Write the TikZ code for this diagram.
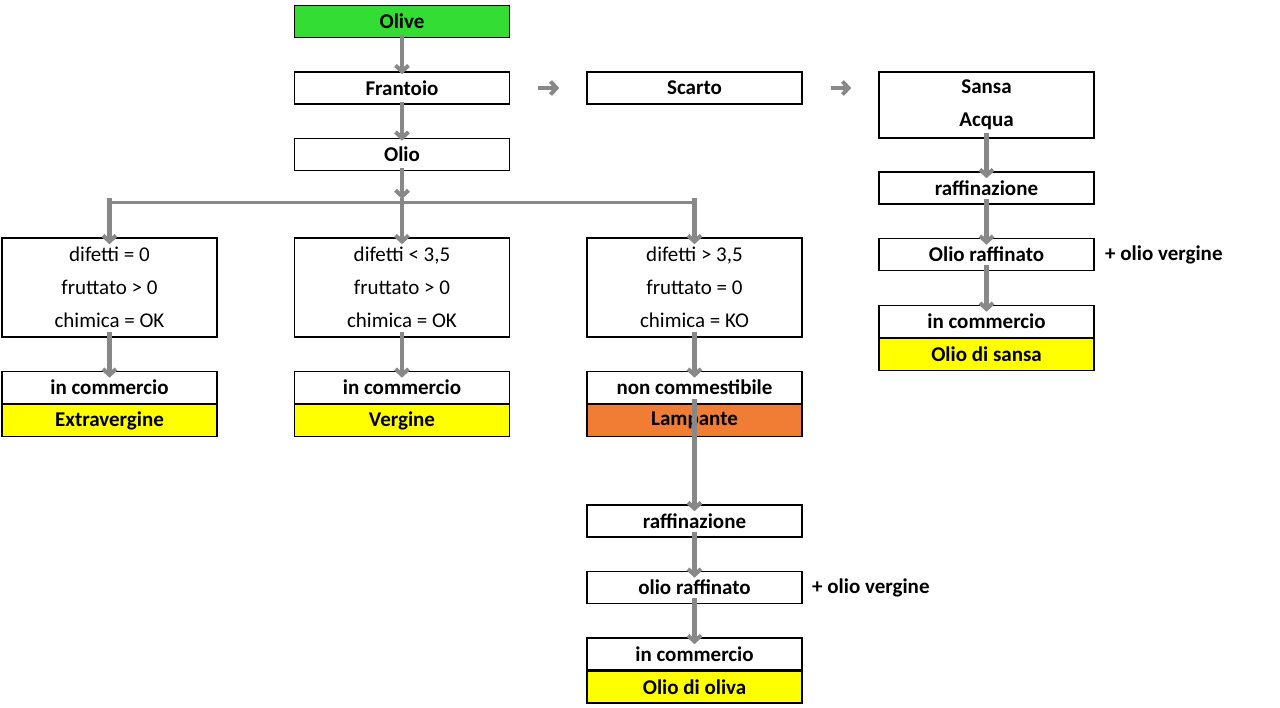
\documentclass[tikz,border=0pt]{standalone}
\usepackage{fontspec}
\setmainfont{Carlito}
\usetikzlibrary{arrows.meta}
\definecolor{grn}{HTML}{33DD33}
\definecolor{yel}{HTML}{FFFF00}
\definecolor{org}{HTML}{F07D33}
\definecolor{arr}{HTML}{888888}
\begin{document}
\begin{tikzpicture}[x=1pt,y=-1pt,
 box/.style={draw=black,line width=1.6pt,minimum width=215pt,minimum height=32pt,inner sep=0pt,font=\fontsize{21}{33}\selectfont\bfseries,align=center},
 rbox/.style={box,font=\fontsize{21}{33}\selectfont,minimum height=99pt},
 ar/.style={draw=arr,line width=4.5pt,-{Straight Barb[length=6pt,width=13pt,line width=4pt]}},
 lbl/.style={font=\fontsize{21}{25}\selectfont\bfseries,anchor=west,inner sep=0pt}]
\useasboundingbox (0,0) rectangle (1280,707);
\node[box,fill=grn] (olive) at (402,21.5) {Olive};
\node[box] (fran) at (402,88) {Frantoio};
\node[box] (olio) at (402,154.5) {Olio};
\node[box] (scarto) at (694.5,88) {Scarto};
\node[box,minimum height=66pt] (sansa) at (986.5,105) {Sansa\\Acqua};
\node[box] (raf1) at (986.5,188) {raffinazione};
\node[box] (or1) at (986.5,254.5) {Olio raffinato};
\node[lbl] (ov1) at (1105,254.5) {+ olio vergine};
\node[box] (ic4) at (986.5,321.5) {in commercio};
\node[box,fill=yel] (os) at (986.5,354.5) {Olio di sansa};
\node[rbox] (d1) at (109.5,287.5) {difetti = 0\\fruttato > 0\\chimica = OK};
\node[rbox] (d2) at (402,287.5) {difetti < 3,5\\fruttato > 0\\chimica = OK};
\node[rbox] (d3) at (694.5,287.5) {difetti > 3,5\\fruttato = 0\\chimica = KO};
\node[box] (ic1) at (109.5,387.5) {in commercio};
\node[box,fill=yel] (ev) at (109.5,420.5) {Extravergine};
\node[box] (ic2) at (402,387.5) {in commercio};
\node[box,fill=yel] (vg) at (402,420.5) {Vergine};
\node[box] (nc) at (694.5,387.5) {non commestibile};
\node[box,fill=org] (lp) at (694.5,420.5) {Lampante};
\node[box] (raf2) at (694.5,521) {raffinazione};
\node[box] (or2) at (694.5,587.5) {olio raffinato};
\node[lbl] (ov2) at (812,587.5) {+ olio vergine};
\node[box] (ic3) at (694.5,654) {in commercio};
\node[box,fill=yel] (oo) at (694.5,687) {Olio di oliva};
\coordinate (h1) at (109.5,202); \coordinate (h2) at (402,202); \coordinate (h3) at (694.5,202);
\draw[arr,line width=3pt] (107,202) -- (696,202);
\draw[ar] ([yshift=3pt]olive.south) -- ([yshift=-3pt]fran.north);
\draw[ar] ([yshift=3pt]fran.south) -- ([yshift=-3pt]olio.north);
\draw[ar] ([yshift=3pt]olio.south) -- ([yshift=3pt]h2);
\draw[ar] ([yshift=4pt]h1) -- ([yshift=-7pt]d1.north);
\draw[ar] ([yshift=4pt]h2) -- ([yshift=-7pt]d2.north);
\draw[ar] ([yshift=4pt]h3) -- ([yshift=-7pt]d3.north);
\draw[ar] ([xshift=28pt]fran.east) -- ([xshift=-27pt]scarto.west);
\draw[ar] ([xshift=28pt]scarto.east) -- ([xshift=-27pt]sansa.west |- scarto.east);
\foreach \a/\b in {sansa/raf1,raf1/or1,or1/ic4,d1/ic1,d2/ic2,d3/nc,raf2/or2,or2/ic3}
  \draw[ar] ([yshift=6pt]\a.south) -- ([yshift=-7pt]\b.north);
\draw[ar] ([yshift=38pt]lp.south) -- ([yshift=-7pt]raf2.north);
\end{tikzpicture}
\end{document}
